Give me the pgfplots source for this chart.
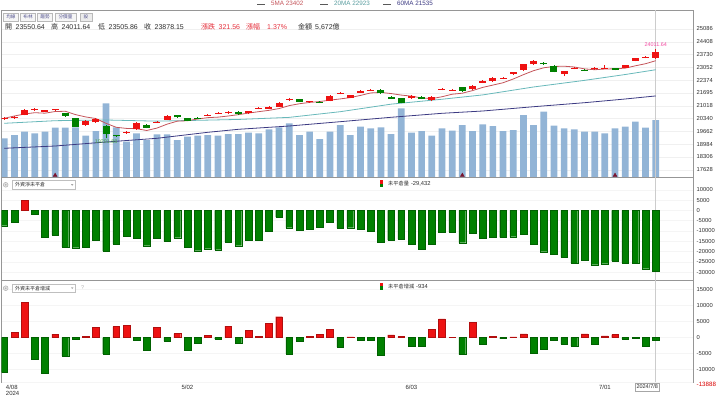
\documentclass[border=0pt]{standalone}
\usepackage{pgfplots}
\pgfplotsset{compat=1.18}
\usepackage{pgfplotstable}
\usepackage{fontspec}
\setmainfont{Liberation Sans}
\newfontfamily\cjk{Noto Sans CJK TC}

\definecolor{upred}{RGB}{238,18,18}
\definecolor{dngreen}{RGB}{0,128,0}
\definecolor{volblue}{RGB}{146,180,214}
\definecolor{maf}{RGB}{196,84,90}
\definecolor{mam}{RGB}{104,184,186}
\definecolor{mas}{RGB}{60,58,130}
\definecolor{framec}{RGB}{150,150,150}
\definecolor{txt}{RGB}{45,45,45}
\definecolor{infored}{RGB}{228,48,60}
\definecolor{tri}{RGB}{120,20,45}

\pgfplotstableread{
x v
0 3851
1 4179
2 4507
3 4348
4 4507
5 4905
6 4905
7 4945
8 4109
9 4577
10 7333
11 4945
12 3512
13 4348
14 3682
15 4249
16 4249
17 3682
18 4010
19 4109
20 4179
21 4109
22 4279
23 4279
24 4408
25 4348
26 4746
27 4945
28 5343
29 4179
30 4507
31 3781
32 4507
33 5174
34 4179
35 5005
36 4846
37 4945
38 4279
39 6836
40 4408
41 4577
42 4109
43 4846
44 4607
45 5174
46 4577
47 5244
48 5075
49 4577
50 4677
51 6169
52 5174
53 6497
54 5104
55 4846
56 4746
57 4507
58 4507
59 4348
60 4846
61 5005
62 5502
63 4905
64 5672
}\voltab

\pgfplotstableread{
x blo bh wlo wh
0 20325 55 20285 140
1 20380 50 20340 140
2 20525 265 20500 320
3 20800 55 20760 140
4 20710 55 20670 140
5 20765 55 20720 140
8 19996 212 19960 280
9 20139 175 20100 250
12 19580 55 19540 140
13 19784 333 19750 400
15 20130 50 20090 140
16 20261 212 20240 260
20 20485 50 20450 130
21 20590 50 20560 130
22 20615 85 20590 140
24 20615 122 20600 160
25 20855 50 20820 120
26 20843 122 20820 170
27 20965 212 20940 260
28 21335 50 21290 150
30 21205 50 21170 120
32 21267 281 21250 320
33 21655 50 21620 150
34 21442 143 21420 190
35 21707 106 21690 150
36 21825 50 21790 130
40 21410 122 21390 170
42 21320 175 21250 270
43 21865 50 21830 130
44 21825 50 21790 120
46 21887 175 21860 230
47 22236 106 22210 160
48 22326 175 22300 230
49 22445 50 22410 130
50 22697 90 22670 150
51 22909 302 22880 360
52 23227 175 23200 230
55 22697 159 22591 289
56 22975 50 22940 130
58 22946 85 22920 140
59 22990 50 22960 190
61 23031 143 23010 190
62 23386 143 23360 190
63 23560 50 23530 120
64 23550.64 327.51 23505.86 505.78
}\uptab

\pgfplotstableread{
x blo bh wlo wh
6 20473 142 20440 210
7 19906 445 19880 500
10 19519 440 19291.88 698
11 19400 50 19370 120
14 19853 143 19820 210
17 20404 106 20380 160
18 20224 127 20200 180
19 20314 69 20290 120
23 20578 122 20550 180
29 21230 127 21210 170
31 21185 50 21150 110
37 21675 175 21650 230
38 21389 106 21370 150
39 21177 233 21150 290
41 21373 122 21350 170
45 21797 196 21770 250
53 23240 50 23200 130
54 22819 302 22790 360
57 22885 50 22850 120
60 22909 90 22890 140
}\dntab

\pgfplotstableread{
x ma
0 20351
1 20473
2 20579
3 20647
4 20622
5 20710
6 20723
7 20547
8 20423
9 20338
10 20084
11 19875
12 19816
13 19798
14 19705
15 19833
16 20041
17 20200
18 20222
19 20314
20 20385
21 20413
22 20473
23 20543
24 20628
25 20702
26 20772
27 20867
28 21023
29 21122
30 21192
31 21239
32 21313
33 21377
34 21448
35 21564
36 21694
37 21720
38 21662
39 21581
40 21525
41 21429
42 21393
43 21493
44 21627
45 21680
46 21818
47 21988
48 22110
49 22234
50 22432
51 22662
52 22874
53 23027
54 23097
55 23110
56 23068
57 22969
58 22923
59 22962
60 22973
61 23008
62 23132
63 23242
64 23402
}\mafive

\pgfplotstableread{
x ma
0 20086
5 20224
10 20261
15 20200
20 20255
23 20290
28 20400
33 20700
38 21100
43 21360
47 21590
52 22010
57 22360
61 22670
64 22923
}\matwenty

\pgfplotstableread{
x ma
0 18762
5 18883
10 19095
15 19291
20 19609
23 19768
28 19943
33 20171
38 20404
43 20615
47 20737
52 20965
57 21177
61 21373
64 21535
}\masixty

\pgfplotstableread{
x v
2 5000
}\onepos

\pgfplotstableread{
x v
0 -7475
1 -5825
3 -1796
4 -13106
5 -11990
6 -17814
7 -18154
8 -17814
9 -14416
10 -19756
11 -16358
12 -12475
13 -13446
14 -17183
15 -13591
16 -15047
17 -13300
18 -17814
19 -19610
20 -18639
21 -19125
22 -15387
23 -17183
24 -14562
25 -14562
26 -10048
27 -3252
28 -8446
29 -9562
30 -9077
31 -8106
32 -5679
33 -8592
34 -8446
35 -9077
36 -10048
37 -15533
38 -14416
39 -13931
40 -16504
41 -18931
42 -16358
43 -10533
44 -10533
45 -15727
46 -11019
47 -13446
48 -12960
49 -13106
50 -12815
51 -11504
52 -16358
53 -20096
54 -21212
55 -22814
56 -25580
57 -24270
58 -26406
59 -25920
60 -24610
61 -25580
62 -25580
63 -28348
64 -29432
}\oneneg

\pgfplotstableread{
x v
1 1563
2 11063
5 1063
8 437
9 3250
11 3438
12 3875
15 3250
17 1250
20 625
22 3563
24 2313
25 312
26 4375
27 6563
30 312
31 938
32 2500
34 219
38 844
39 312
42 2625
43 5844
44 60
46 4688
48 312
50 219
51 1156
57 1156
59 531
60 938
}\twopos

\pgfplotstableread{
x v
0 -10813
3 -6750
4 -11250
6 -5719
7 -500
10 -5094
13 -812
14 -3844
16 -1125
18 -3844
19 -1875
21 -500
23 -1656
28 -5094
29 -1125
33 -3000
35 -812
36 -812
37 -5406
40 -2594
41 -2594
45 -5313
47 -2188
49 -312
52 -4781
53 -3750
54 -812
55 -1969
56 -2594
58 -2063
61 -406
62 -40
63 -2813
64 -934
}\twoneg

\pgfplotsset{
  panel/.style={
    scale only axis, width=691.3pt, anchor=north west,
    xmin=-0.25, xmax=67.66,
    axis line style={framec, line width=0.8pt},
    major tick length=0pt,
    yticklabel pos=right,
    yticklabel style={font=\fontsize{5.8}{6}\selectfont, text=txt, anchor=west, inner sep=0pt, xshift=3.5pt},
    xticklabel style={font=\fontsize{6}{6}\selectfont, text=txt, inner sep=0pt, yshift=-3pt},
    scaled y ticks=false, scaled x ticks=false,
    xtick=\empty, clip mode=individual,
  },
  bars/.style={ybar, bar width=0.66, bar shift=0pt, forget plot},
  candle/.style 2 args={draw=none, mark=none, forget plot,
    error bars/.cd, y dir=plus, y explicit, error mark=none,
    error bar style={draw=#1, line width=#2}},
}

\begin{document}
\begin{tikzpicture}
\path[use as bounding box] (0pt,0pt) rectangle (720pt,-397pt);

% ---------- main panel: frame and grid ----------
\begin{axis}[panel, at={(1.7pt,-10pt)}, height=167pt,
  ymin=17241.3, ymax=26087.3,
  ytick={17628,18306,18984,19662,20340,21018,21695,22374,23052,23730,24408,25086},
  yticklabels={17628,18306,18984,19662,20340,21018,21695,22374,23052,23730,24408,25086},
  ymajorgrids, major grid style={gray!12, line width=0.4pt}]
\addplot[draw=none, forget plot] coordinates {(0,20000)};
\end{axis}

% ---------- volume ----------
\begin{axis}[panel, at={(1.7pt,-10pt)}, height=167pt, hide axis,
  ymin=0, ymax=16617]
\addplot[bars, fill=volblue, draw=none] table[x=x, y=v] {\voltab};
\addplot[only marks, mark=triangle*, mark size=2.3pt, color=tri, forget plot]
  coordinates {(5,160) (45,160) (60,160)};
\end{axis}

% ---------- candles and moving averages ----------
\begin{axis}[panel, at={(1.7pt,-10pt)}, height=167pt, hide axis,
  ymin=17241.3, ymax=26087.3]
\addplot[gray!40, line width=0.6pt, forget plot] coordinates {(64,17241.3) (64,26087.3)};
\addplot[mas, line width=0.8pt, mark=none] table[x=x, y=ma] {\masixty};
\addplot[mam, line width=0.8pt, mark=none] table[x=x, y=ma] {\matwenty};
\addplot[maf, line width=0.8pt, mark=none] table[x=x, y=ma] {\mafive};
\addplot[candle={upred}{0.8pt}] table[x=x, y=wlo, y error=wh] {\uptab};
\addplot[candle={dngreen}{0.8pt}] table[x=x, y=wlo, y error=wh] {\dntab};
\addplot[candle={upred}{7pt}] table[x=x, y=blo, y error=bh] {\uptab};
\addplot[candle={dngreen}{7pt}] table[x=x, y=blo, y error=bh] {\dntab};
\node[anchor=south, inner sep=0pt, yshift=2.5pt, font=\fontsize{5.4}{6}\selectfont, text=infored!60!magenta!80!white] at (axis cs:64,24011.64) {24011.64};
\node[anchor=north, inner sep=0pt, yshift=-1.5pt, font=\fontsize{5.4}{6}\selectfont, text=dngreen!70!white] at (axis cs:10,19291.88) {19291.88};
\end{axis}

% ---------- panel 1 ----------
\begin{axis}[panel, at={(1.7pt,-177pt)}, height=103pt,
  ymin=-33832, ymax=16164,
  ytick={-30000,-25000,-20000,-15000,-10000,-5000,0,5000,10000},
  yticklabels={-30000,-25000,-20000,-15000,-10000,-5000,0,5000,10000},
  ymajorgrids, major grid style={gray!8, line width=0.4pt}]
\addplot[gray!40, line width=0.6pt, forget plot] coordinates {(64,-33832) (64,16164)};
\addplot[bars, fill=upred, draw=upred!75!black, line width=0.3pt] table[x=x, y=v] {\onepos};
\addplot[bars, fill=dngreen, draw=dngreen!75!black, line width=0.3pt] table[x=x, y=v] {\oneneg};
\end{axis}

% ---------- panel 2 ----------
\begin{axis}[panel, at={(1.7pt,-280pt)}, height=102pt,
  ymin=-13888, ymax=18031,
  ytick={-10000,-5000,0,5000,10000,15000},
  yticklabels={-10000,-5000,0,5000,10000,15000},
  extra y ticks={-13888}, extra y tick labels={-13888},
  extra y tick style={yticklabel style={text=red!85!black, font=\fontsize{6.2}{6}\selectfont, yshift=-2pt}},
  xtick={18,40,59}, xticklabels={5/02,6/03,7/01},
  extra x ticks={0}, extra x tick labels={4/08\\2024},
  extra x tick style={xticklabel style={align=left, anchor=north west, xshift=1.5pt}},
  ymajorgrids, major grid style={gray!8, line width=0.4pt}]
\addplot[gray!40, line width=0.6pt, forget plot] coordinates {(64,-13888) (64,18031)};
\addplot[bars, fill=upred, draw=upred!75!black, line width=0.3pt] table[x=x, y=v] {\twopos};
\addplot[bars, fill=dngreen, draw=dngreen!75!black, line width=0.3pt] table[x=x, y=v] {\twoneg};
\node[draw=gray!70, fill=white, inner xsep=1.5pt, inner ysep=2pt, anchor=north, yshift=-0.5pt, xshift=-8.5pt, font=\fontsize{5.5}{6}\selectfont, text=txt] at (axis cs:64,-13888) {2024/7/8};
\end{axis}

% ---------- header ----------
\draw[gray!70!black, line width=0.6pt] (257pt,-3.8pt) -- (265pt,-3.8pt);
\node[anchor=west, inner sep=0pt, font=\fontsize{6.3}{6.5}\selectfont, text=maf] at (271pt,-3.8pt) {5MA 23402};
\draw[gray!70!black, line width=0.6pt] (320pt,-3.8pt) -- (328pt,-3.8pt);
\node[anchor=west, inner sep=0pt, font=\fontsize{6.3}{6.5}\selectfont, text=mam!85!black] at (334pt,-3.8pt) {20MA 22923};
\draw[gray!70!black, line width=0.6pt] (383pt,-3.8pt) -- (391pt,-3.8pt);
\node[anchor=west, inner sep=0pt, font=\fontsize{6.3}{6.5}\selectfont, text=mas] at (397pt,-3.8pt) {60MA 21535};

\tikzset{tab/.style={draw=gray!55, fill=gray!7, minimum height=8pt, inner sep=0pt, font=\cjk\fontsize{4.6}{5}\selectfont, text=blue!25!gray!90!black}}
\node[tab, minimum width=15pt] at (11pt,-16.7pt) {均線};
\node[tab, minimum width=15pt] at (28pt,-16.7pt) {布林};
\node[tab, minimum width=15pt] at (45pt,-16.7pt) {趨勢};
\node[tab, minimum width=21pt] at (65.5pt,-16.7pt) {分價量};
\node[tab, minimum width=12pt, fill=gray!15] at (86pt,-16.7pt) {設};

\tikzset{info/.style={anchor=west, inner sep=0pt, font=\fontsize{7}{8}\selectfont, text=txt}}
\node[info] at (5pt,-26.8pt) {{\cjk 開}\hspace{3.5pt}23550.64};
\node[info] at (51pt,-26.8pt) {{\cjk 高}\hspace{3.5pt}24011.64};
\node[info] at (98pt,-26.8pt) {{\cjk 低}\hspace{3.5pt}23505.86};
\node[info] at (144pt,-26.8pt) {{\cjk 收}\hspace{3.5pt}23878.15};
\node[info, text=infored] at (201pt,-26.8pt) {{\cjk 漲跌}\hspace{3.5pt}321.56};
\node[info, text=infored] at (246pt,-26.8pt) {{\cjk 漲幅}};
\node[info, text=infored] at (267pt,-26.8pt) {1.37\%};
\node[info] at (298pt,-26.8pt) {{\cjk 金額}\hspace{3pt}5,672{\cjk 億}};

% ---------- panel 1 header ----------
\draw[gray!60, fill=gray!20, line width=0.5pt] (5.7pt,-184.8pt) circle (2.4pt);
\fill[gray!60] (5.7pt,-184.8pt) circle (0.9pt);
\draw[gray!50, fill=white, line width=0.4pt] (12pt,-180.5pt) rectangle (75.5pt,-189.5pt);
\node[anchor=west, inner sep=0pt, font=\cjk\fontsize{5}{5.5}\selectfont, text=txt] at (15pt,-185pt) {外資淨未平倉};
\fill[gray!70] (71pt,-184.2pt) -- (73.4pt,-184.2pt) -- (72.2pt,-185.8pt) -- cycle;
\fill[upred] (379.5pt,-180.3pt) rectangle (382.7pt,-183.5pt);
\fill[dngreen] (379.5pt,-183.5pt) rectangle (382.7pt,-186.7pt);
\node[anchor=west, inner sep=0pt, font=\fontsize{5.8}{6}\selectfont, text=txt] at (388pt,-183.3pt) {{\cjk\fontsize{5.2}{6}\selectfont 未平倉量}\hspace{2pt}-29,432};

% ---------- panel 2 header ----------
\draw[gray!60, fill=gray!20, line width=0.5pt] (5.7pt,-288.2pt) circle (2.4pt);
\fill[gray!60] (5.7pt,-288.2pt) circle (0.9pt);
\draw[gray!50, fill=white, line width=0.4pt] (12pt,-284pt) rectangle (75.5pt,-292.5pt);
\node[anchor=west, inner sep=0pt, font=\cjk\fontsize{5}{5.5}\selectfont, text=txt] at (15pt,-288.2pt) {外資未平倉增減};
\fill[gray!70] (71pt,-287.4pt) -- (73.4pt,-287.4pt) -- (72.2pt,-289pt) -- cycle;
\node[anchor=west, inner sep=0pt, font=\fontsize{5.5}{6}\selectfont, text=gray!60] at (81pt,-288pt) {?};
\fill[upred] (379.5pt,-282.5pt) rectangle (382.7pt,-286pt);
\fill[dngreen] (379.5pt,-286pt) rectangle (382.7pt,-289.5pt);
\node[anchor=west, inner sep=0pt, font=\fontsize{5.8}{6}\selectfont, text=txt] at (388pt,-286.3pt) {{\cjk\fontsize{5.2}{6}\selectfont 未平倉增減}\hspace{2pt}-934};
\end{tikzpicture}
\end{document}
